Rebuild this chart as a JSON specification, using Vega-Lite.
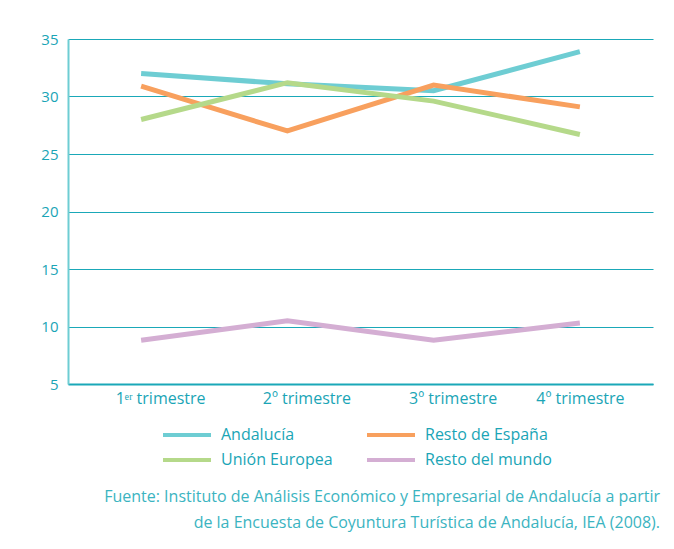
{
  "$schema": "https://vega.github.io/schema/vega-lite/v6.json",
  "width": 585,
  "height": 345,
  "autosize": {"type": "none"},
  "padding": {"left": 68, "top": 39, "right": 21, "bottom": 165},
  "background": "white",
  "config": {
    "view": {"stroke": null},
    "font": "Open Sans",
    "axis": {"labelFont": "Open Sans", "labelColor": "#1aa5b6", "labelFontSize": 15, "ticks": false, "title": null}
  },
  "title": {
    "text": ["Fuente: Instituto de Análisis Económico y Empresarial de Andalucía a partir", "de la Encuesta de Coyuntura Turística de Andalucía, IEA (2008)."],
    "orient": "bottom",
    "anchor": "end",
    "frame": "group",
    "align": "right",
    "dx": 7,
    "offset": 21,
    "fontSize": 16,
    "fontWeight": "normal",
    "font": "Open Sans",
    "color": "#3bb4c1",
    "lineHeight": 26
  },
  "data": {
    "values": [
      {"t": "1ᵉʳ trimestre", "o": 1, "s": "Andalucía", "v": 32.0},
      {"t": "2º trimestre", "o": 2, "s": "Andalucía", "v": 31.1},
      {"t": "3º trimestre", "o": 3, "s": "Andalucía", "v": 30.5},
      {"t": "4º trimestre", "o": 4, "s": "Andalucía", "v": 33.9},
      {"t": "1ᵉʳ trimestre", "o": 1, "s": "Resto de España", "v": 30.9},
      {"t": "2º trimestre", "o": 2, "s": "Resto de España", "v": 27.0},
      {"t": "3º trimestre", "o": 3, "s": "Resto de España", "v": 31.0},
      {"t": "4º trimestre", "o": 4, "s": "Resto de España", "v": 29.1},
      {"t": "1ᵉʳ trimestre", "o": 1, "s": "Unión Europea", "v": 28.0},
      {"t": "2º trimestre", "o": 2, "s": "Unión Europea", "v": 31.2},
      {"t": "3º trimestre", "o": 3, "s": "Unión Europea", "v": 29.6},
      {"t": "4º trimestre", "o": 4, "s": "Unión Europea", "v": 26.7},
      {"t": "1ᵉʳ trimestre", "o": 1, "s": "Resto del mundo", "v": 8.8},
      {"t": "2º trimestre", "o": 2, "s": "Resto del mundo", "v": 10.5},
      {"t": "3º trimestre", "o": 3, "s": "Resto del mundo", "v": 8.8},
      {"t": "4º trimestre", "o": 4, "s": "Resto del mundo", "v": 10.3}
    ]
  },
  "mark": {"type": "line", "strokeWidth": 5, "strokeCap": "butt", "strokeJoin": "miter"},
  "encoding": {
    "x": {
      "field": "t", "type": "ordinal", "sort": {"field": "o"},
      "scale": {"type": "point", "padding": 0.5},
      "axis": {"labelAngle": 0, "labelFontSize": 16, "domainColor": "#1aa8b8", "domainWidth": 2, "grid": false, "labelPadding": 6,
        "labelOffset": {"condition": {"test": "datum.value === '4º trimestre'", "value": 0}, "value": 19}}
    },
    "y": {
      "field": "v", "type": "quantitative",
      "scale": {"domain": [5, 35], "nice": false, "zero": false},
      "axis": {"values": [5, 10, 15, 20, 25, 30, 35], "domainColor": "#6ecdd3", "domainWidth": 2, "gridColor": "#1aa8b8", "gridWidth": 1, "labelPadding": 10}
    },
    "color": {
      "field": "s", "type": "nominal",
      "sort": ["Andalucía", "Resto de España", "Unión Europea", "Resto del mundo"],
      "scale": {"domain": ["Andalucía", "Resto de España", "Unión Europea", "Resto del mundo"], "range": ["#6ecdd3", "#f8a05e", "#b5d98a", "#d4aed3"]},
      "legend": {
        "title": null,
        "orient": "none",
        "legendX": 105,
        "legendY": 382,
        "columns": 2,
        "direction": "horizontal",
        "columnPadding": 26,
        "rowPadding": 3,
        "symbolType": "M-2,0H2",
        "symbolSize": 576,
        "symbolStrokeWidth": 4,
        "labelFont": "Open Sans",
        "labelFontSize": 16,
        "labelColor": "#1aa5b6",
        "labelOffset": 20
      }
    }
  }
}
